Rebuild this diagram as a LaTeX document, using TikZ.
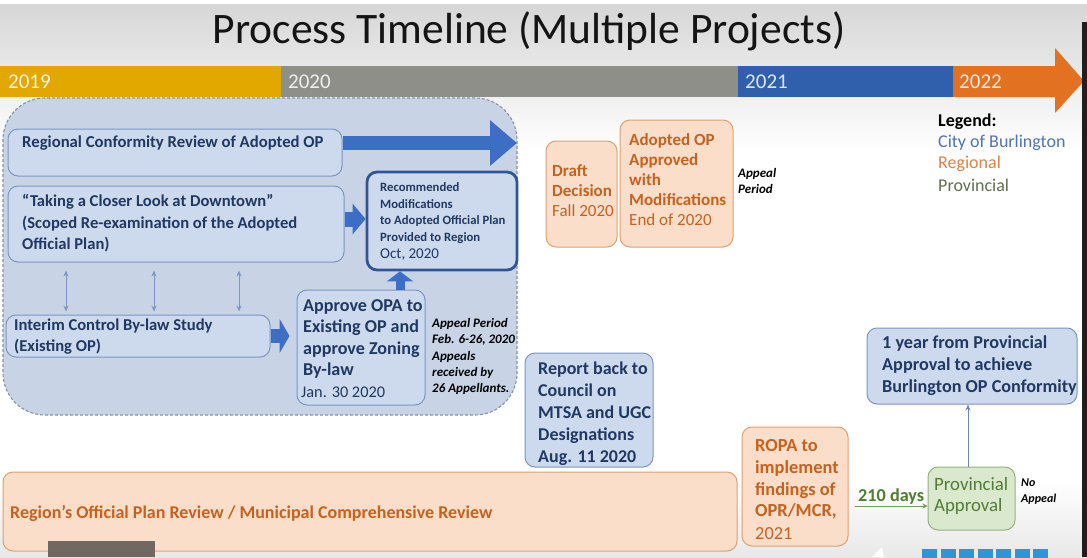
\documentclass[tikz,border=0pt]{standalone}
\usepackage{fontspec}
\setmainfont{Carlito}
\usetikzlibrary{arrows.meta,calc}
\definecolor{cA}{RGB}{227,168,0}
\definecolor{cB}{RGB}{143,143,138}
\definecolor{cC}{RGB}{48,96,172}
\definecolor{cD}{RGB}{226,114,34}
\definecolor{regfill}{RGB}{200,212,230}
\definecolor{regdraw}{RGB}{130,146,170}
\definecolor{bfill}{RGB}{205,217,236}
\definecolor{bdraw}{RGB}{122,150,196}
\definecolor{btext}{RGB}{31,56,100}
\definecolor{bdark}{RGB}{47,85,151}
\definecolor{barrow}{RGB}{60,110,196}
\definecolor{ofill}{RGB}{250,222,202}
\definecolor{odraw}{RGB}{226,160,110}
\definecolor{otext}{RGB}{197,98,30}
\definecolor{gfill}{RGB}{218,232,206}
\definecolor{gdraw}{RGB}{150,176,124}
\definecolor{gtext}{RGB}{80,126,50}
\definecolor{legblue}{RGB}{79,118,176}
\definecolor{legor}{RGB}{216,132,74}
\definecolor{leggr}{RGB}{95,111,80}
\newcommand\myfs[2]{\fontsize{#1}{#2}\selectfont}
\tikzset{
  bx/.style={draw, rounded corners=10pt, inner sep=0pt, line width=1pt},
  bluebx/.style={bx, draw=bdraw, fill=bfill},
  orbx/.style={bx, draw=odraw, fill=ofill},
  grbx/.style={bx, draw=gdraw, fill=gfill},
  tx/.style={anchor=west, align=left, inner sep=0pt},
  btx/.style={tx, text=btext},
  otx/.style={tx, text=otext},
  yr/.style={tx, text=white, opacity=0.85, font=\myfs{21}{22}},
  fatarrow/.style={draw=barrow, line width=#1},
  thinarrow/.style={draw=bdraw, line width=1pt},
  note/.style={tx, font=\myfs{13}{16.3}\bfseries\itshape, text=black}
}
\begin{document}
\begin{tikzpicture}[x=1pt,y=-1pt]
\useasboundingbox (0,0) rectangle (1087,557);
% background
\fill[white] (0,0) rectangle (1087,557);
\shade[top color=black!16, bottom color=white] (0,4) rectangle (1087,150);
\shade[top color=white, bottom color=black!9] (0,480) rectangle (1087,557);
% title
\node[inner sep=0pt, font=\myfs{43.5}{46}, text=black!92] (title) at (529,31) {Process Timeline (Multiple Projects)};
% timeline bar
\fill[cA] (0,66) rectangle (281,97);
\fill[cB] (281,66) rectangle (738,97);
\fill[cC] (738,66) rectangle (953,97);
\fill[cD] (953,66) -- (1055,66) -- (1055,48) -- (1084,81) -- (1055,113) -- (1055,97) -- (953,97) -- cycle;
\node[yr] (y19) at (8,82) {2019};
\node[yr] (y20) at (288,82) {2020};
\node[yr] (y21) at (745,82) {2021};
\node[yr] (y22) at (959,82) {2022};
% dashed group region
\node[draw=regdraw, fill=regfill, densely dashed, line width=1.1pt, rounded corners=42pt,
      minimum width=514pt, minimum height=317pt, inner sep=0pt] (grp) at (260,256.5) {};
% Regional conformity review
\node[bluebx, minimum width=334pt, minimum height=47pt] (rcr) at (175,152.5) {};
\node[btx, font=\myfs{16.7}{21}\bfseries] (rcrt) at (22,143) {Regional Conformity Review of Adopted OP};
\coordinate (rcrend) at (517,143);
\draw[fatarrow=14pt, -{Triangle[length=27pt,width=44pt]}] ([yshift=9.5pt]rcr.east) -- (rcrend);
% Taking a closer look
\node[bluebx, minimum width=336pt, minimum height=76pt] (look) at (176,224) {};
\node[btx, font=\myfs{16.6}{21.5}\bfseries] (lookt) at (22,223.5) {“Taking a Closer Look at Downtown”\\(Scoped Re-examination of the Adopted\\Official Plan)};
% Recommended modifications
\node[bx, draw=bdark, fill=bfill, line width=2.8pt, minimum width=150pt, minimum height=98pt] (rec) at (442,221) {};
\node[btx, font=\myfs{12.7}{16.6}\bfseries] (rect) at (380,213) {Recommended\\Modifications\\to Adopted Official Plan\\Provided to Region};
\node[btx, font=\myfs{15}{16}] (recd) at (380,255) {Oct, 2020};
\draw[fatarrow=15pt, -{Triangle[length=13pt,width=30pt]}] ([yshift=5pt]look.east) -- ([yshift=5pt]look.east -| rec.west);
% Interim control
\node[bluebx, minimum width=264pt, minimum height=42pt] (icb) at (138,336) {};
\node[btx, font=\myfs{16.6}{21}\bfseries] (icbt) at (14,336.5) {Interim Control By-law Study\\(Existing OP)};
% double arrows
\foreach \dx in {-110,-22,63}{
  \draw[thinarrow, {Stealth[length=6pt,width=5pt]}-{Stealth[length=6pt,width=5pt]}, shorten <=8pt, shorten >=3pt]
    ([xshift=\dx pt]look.south) -- ([xshift=\dx pt]look.south |- icb.north);
}
% Approve OPA
\node[bluebx, minimum width=128pt, minimum height=115pt] (opa) at (361,347.5) {};
\node[btx, font=\myfs{18.1}{21.5}\bfseries] (opat) at (303,339) {Approve OPA to\\Existing OP and\\approve Zoning\\By-law};
\node[btx, font=\myfs{16.3}{17}] (opad) at (301,392) {Jan. 30 2020};
\draw[fatarrow=14pt, -{Triangle[length=10pt,width=34pt]}] (icb.east) -- ([xshift=-7pt]icb.east -| opa.west);
\draw[fatarrow=9pt, -{Triangle[length=10pt,width=26pt]}] ([xshift=39pt]opa.north) -- ([xshift=39pt]opa.north |- rec.south);
\node[note] (appeal1) at (432,356.5) {Appeal Period\\Feb. 6-26, 2020\\Appeals\\received by\\26 Appellants.};
% Orange: Draft decision
\node[orbx, minimum width=71pt, minimum height=106pt] (draft) at (581.5,194) {};
\node[otx, font=\myfs{17}{20}\bfseries] (draftt) at (552,181) {Draft\\Decision};
\node[otx, font=\myfs{17}{20}] (draftd) at (552,211) {Fall 2020};
% Adopted OP approved
\node[orbx, minimum width=113pt, minimum height=127pt] (adop) at (676.5,183.5) {};
\node[otx, font=\myfs{17}{20}\bfseries] (adopt) at (629,170) {Adopted OP\\Approved\\with\\Modifications};
\node[otx, font=\myfs{17}{20}] (adopd) at (629,220) {End of 2020};
\node[note] (appeal2) at (738,181) {Appeal\\Period};
% Legend
\node[tx, font=\myfs{18}{21}\bfseries, text=black] (leg) at (938,122) {Legend:};
\node[tx, font=\myfs{18}{21}, text=legblue] (leg1) at (938,142.5) {City of Burlington};
\node[tx, font=\myfs{18}{21}, text=legor] (leg2) at (938,164) {Regional};
\node[tx, font=\myfs{18}{21}, text=leggr] (leg3) at (938,185) {Provincial};
% Report back
\node[bluebx, minimum width=128pt, minimum height=114pt] (rep) at (589,410) {};
\node[btx, font=\myfs{18}{22}\bfseries] (rept) at (538,414) {Report back to\\Council on\\MTSA and UGC\\Designations\\Aug. 11 2020};
% Region's OPR
\node[orbx, minimum width=734pt, minimum height=79pt] (opr) at (370,511.5) {};
\node[otx, font=\myfs{18}{20}\bfseries] (oprt) at (10,513) {Region’s Official Plan Review / Municipal Comprehensive Review};
% ROPA
\node[orbx, minimum width=106pt, minimum height=119pt] (ropa) at (795,486.5) {};
\node[otx, font=\myfs{18.4}{21.75}\bfseries] (ropat) at (755,479.5) {ROPA to\\implement\\findings of\\OPR/MCR,};
\node[otx, font=\myfs{18.4}{18}] (ropad) at (755,534) {2021};
% Provincial approval
\node[grbx, minimum width=87pt, minimum height=63pt] (prov) at (971.5,498.5) {};
\node[tx, font=\myfs{18.8}{21}, text=gtext] (provt) at (934,495.5) {Provincial\\Approval};
\node[note, font=\myfs{12}{16}\bfseries\itshape] (noap) at (1021,492) {No\\Appeal};
% 210 days
\node[tx, font=\myfs{18.2}{18}\bfseries, text=gtext] (days) at (858,497) {210 days};
\coordinate (dstart) at (855,506);
\draw[draw=gtext!80, line width=1pt, -{Stealth[length=5pt,width=5pt]}] (dstart) -- (dstart -| prov.west);
% 1 year
\node[bluebx, minimum width=210pt, minimum height=76pt] (oneyr) at (972,366) {};
\node[btx, font=\myfs{18.2}{22}\bfseries] (oneyrt) at (882,366) {1 year from Provincial\\Approval to achieve\\Burlington OP Conformity};
\draw[draw=bdraw!90!black, line width=1pt, -{Stealth[length=6pt,width=5pt]}] ([xshift=-3.5pt]prov.north) -- ([xshift=-3.5pt]prov.north |- oneyr.south);
% screen artifacts
\fill[black!88] (1082,22) rectangle (1087,557);
\fill[black!58!brown!30!gray] (48,541) rectangle (155,557);
\foreach \i in {0,...,6}{
  \fill[cyan!70!blue!85] (922+\i*18.5,549) rectangle ++(15,10);
}
\fill[white] (872,557) -- (882,547) -- (884,557) -- cycle;
\end{tikzpicture}
\end{document}
